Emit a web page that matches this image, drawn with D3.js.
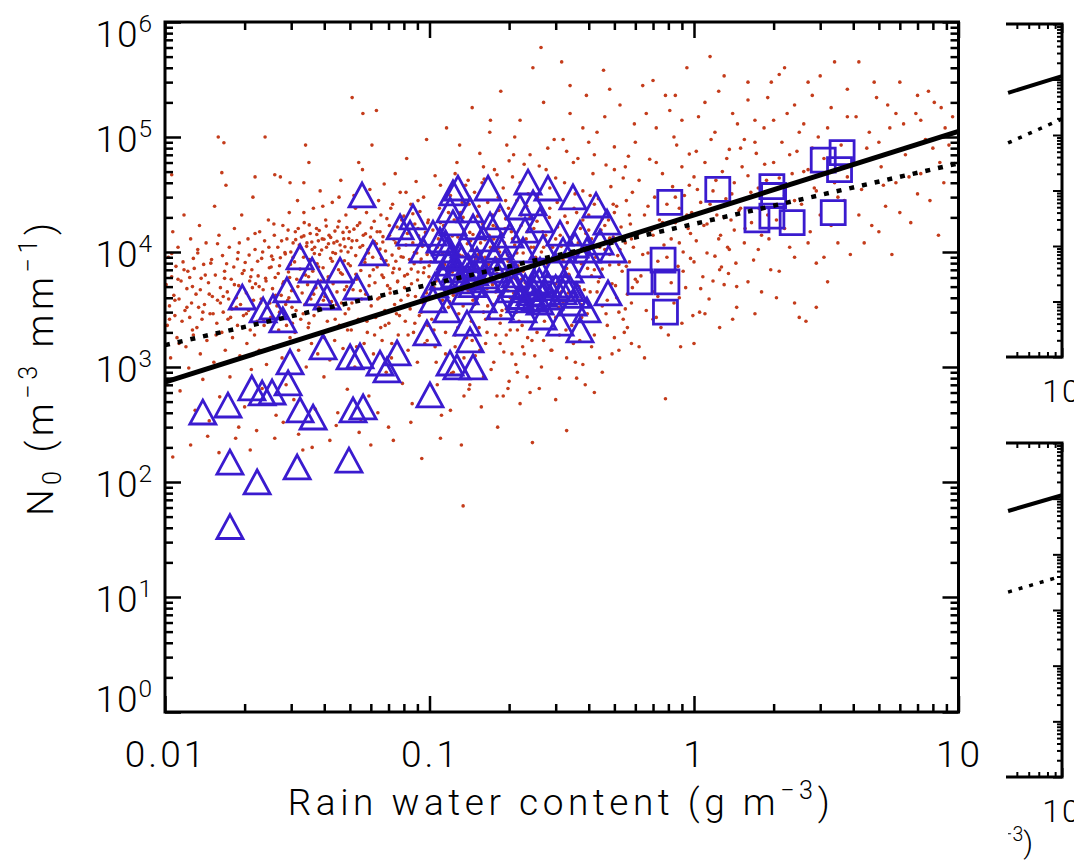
<!DOCTYPE html>
<html>
<head>
<meta charset="utf-8">
<script src="https://cdn.jsdelivr.net/npm/d3@7"></script>
<style>
  body { margin: 0; background: #fff; }
  svg text { font-family: Roboto, "Liberation Sans", sans-serif; font-weight: 300; fill: #000; }
</style>
</head>
<body>
<svg id="chart" width="1074" height="860"></svg>
<script>
// Axis ticks
const xMajor = [0.01, 0.1, 1, 10];
const xMajorLabels = ["0.01", "0.1", "1", "10"];
const yExponents = [0, 1, 2, 3, 4, 5, 6];

// Fitted lines, end points [rain water content, N0]
const fitSolid = [[0.01, 740], [10, 112000]];
const fitDotted = [[0.01, 1550], [10, 59000]];

// Side panels (only the right edge is visible)
const sideTopSolid = [[4.37, 57500], [10, 115000]];
const sideTopDotted = [[4.37, 7200], [10, 19500]];
const sideBotSolid = [[4.37, 60000], [10, 115000]];
const sideBotDotted = [[4.37, 2100], [10, 4070]];

// Triangles [W, N0]
const triangles = [
  [0.0176,41],[0.0176,149],[0.0223,100],[0.0316,135],[0.0496,155],[0.0139,406],[0.0173,467],
  [0.0213,657],[0.0233,594],[0.0254,606],[0.0324,423],[0.0363,367],[0.0292,726],[0.0297,1105],
  [0.0514,423],[0.0561,449],[0.0396,1493],[0.0501,1222],[0.0546,1247],[0.0691,942],[0.0754,1324],
  [0.065,1083],[0.1004,571],[0.1196,1083],[0.1461,1000],[0.0978,1976],[0.0196,4060],[0.0279,2563],
  [0.0256,3325],[0.0289,4674],[0.0324,9050],[0.0379,4400],[0.0459,6970],[0.0532,4960],[0.0611,9800],
  [0.0556,31300],[0.0774,16500],[0.0866,20200],[0.0844,14600],[0.0945,10400],[0.1227,32600],
  [0.0235,3130],[0.1281,36000],[0.1665,36000],[0.2358,40600],[0.3487,30100],[0.469,18200],
  [0.1031,14600],[0.1227,17900],[0.1461,16500],[0.1848,20200],[0.2199,24600],[0.2463,26700],
  [0.3114,14600],[0.3706,14600],[0.4412,12200],[0.1165,10400],[0.1512,8520],[0.1848,11000],
  [0.2257,10400],[0.2686,11000],[0.3197,10400],[0.3939,10400],[0.494,10400],[0.1125,6060],
  [0.1386,6060],[0.165,5710],[0.2016,4674],[0.2399,4400],[0.2855,4060],[0.3487,3600],[0.3939,3130],
  [0.1848,3325],[0.2257,3130],[0.2686,2720],[0.1594,3830],[0.1386,2410],[0.127,1000],[0.3706,2100],
  [0.3114,2410],[0.473,4400],[0.1096,12700],[0.1304,9420],[0.1694,10400],[0.1769,6970],[0.193,8190],
  [0.2105,6310],[0.2506,5370],[0.2617,6970],[0.2982,7710],[0.3253,5160],[0.3398,6970],[0.2199,3830],
  [0.2617,3670],[0.1362,4490],[0.1249,6310],[0.1049,5160],[0.2297,15500],[0.2617,19000],[0.2016,14000],
  [0.1694,17200],[0.1423,23200],[0.1196,23200],[0.3549,11500],[0.4044,7710],[0.2805,36000],
  [0.4262,25600],[0.1031,3830],[0.1165,3130],[0.1423,1720],[0.041,4060],[0.036,6970],
  [0.118,8000],[0.125,7000],[0.132,8800],[0.14,7500],[0.148,6600],[0.155,7200],[0.162,6200],
  [0.145,5200],[0.13,5600],[0.2,5800],[0.21,5200],[0.23,5000],[0.245,4800],[0.26,5600],[0.28,5200],
  [0.3,4900],[0.32,4500],[0.27,4300],[0.25,3900],[0.22,4100],[0.34,4800],[0.36,4200],[0.12,9000],
  [0.115,12000],[0.135,11500],[0.16,13000],[0.175,9000]
];

// Squares [W, N0]
const squares = [
  [0.625,5500],[0.79,5500],[0.764,8500],[0.78,3000],[0.81,27000],[1.23,35000],[1.97,37000],
  [2.0,31000],[1.73,19000],[1.97,20500],[2.35,18000],[3.36,22000],[3.08,63000],[3.63,73000],[3.55,52000]
];

// Small red points [W, N0]
const points = [
  [0.0101,5200],[0.0102,2300],[0.0103,9000],[0.0104,3400],[0.0105,1200],[0.0106,6100],[0.0107,15000],
  [0.0108,4200],[0.0109,2800],[0.011,7500],[0.0111,1800],[0.0112,11000],[0.0113,3900],[0.0114,620],
  [0.0115,5600],[0.0116,2500],[0.0117,8200],[0.0118,21000],[0.0119,3100],[0.012,1500],[0.0121,4800],
  [0.0122,6800],[0.0123,980],[0.0124,2700],[0.0125,13000],[0.0126,3600],[0.0127,5000],[0.0128,1900],
  [0.0129,7200],[0.013,420],[0.0131,4300],[0.0132,2200],[0.0133,9800],[0.0134,3300],[0.0135,17000],
  [0.0136,1300],[0.0137,5900],[0.0138,2600],[0.0139,780],[0.014,7800],
  [0.0141,3500],[0.0143,12000],[0.0144,1700],[0.0146,5400],[0.0147,340],[0.0148,2900],[0.015,8600],
  [0.0151,4100],[0.0153,1100],[0.0154,25000],[0.0155,6300],[0.0157,2400],[0.0158,3800],[0.016,14000],
  [0.0161,550],[0.0162,4900],[0.0164,2000],[0.0165,9300],[0.0166,3000],[0.0168,6800],[0.0169,1400],
  [0.017,38000],[0.0172,4500],[0.0173,2600],[0.0175,11000],[0.0176,820],[0.0178,5800],[0.0179,3200],
  [0.018,1800],[0.0182,7400],[0.0183,16000],[0.0185,240],[0.0186,4000],[0.0188,2300],[0.0189,9900],
  [0.019,5100],[0.0192,1250],[0.0193,3500],[0.0195,21000],[0.0196,6500],[0.0198,2800],[0.02,450],
  [0.0201,8100],[0.0203,4400],[0.0204,1600],[0.0206,13000],[0.0207,3100],[0.0209,5600],[0.021,2100],
  [0.0212,950],[0.0213,7000],[0.0215,30000],[0.0216,3800],[0.0218,1900],[0.0219,10500],[0.022,5300],
  [0.0222,280],[0.0223,2500],[0.0225,6200],[0.0227,1400],[0.0228,15000],[0.023,3600],[0.0232,8800],
  [0.0233,650],[0.0235,4700],[0.0237,2300],[0.0238,12500],[0.024,5900],[0.0242,1050],[0.0244,3300],
  [0.0246,19000],[0.0248,7300],
  [0.0251,2700],[0.0253,9200],[0.0255,4800],[0.0257,1500],[0.0259,14000],[0.0261,6000],[0.0263,380],
  [0.0265,3400],[0.0267,11000],[0.0269,2100],[0.0271,7600],[0.0273,45000],[0.0275,4200],[0.0277,1200],
  [0.0279,17000],[0.0281,5500],[0.0283,2900],[0.0285,9600],[0.0287,700],[0.0289,13000],[0.0291,3800],
  [0.0293,6700],[0.0295,22000],[0.0297,1800],[0.0299,10000],[0.0301,4600],[0.0303,2400],[0.0305,12000],
  [0.0307,520],[0.0309,8200],[0.0311,15000],[0.0313,3100],[0.0315,5800],[0.0317,28000],[0.032,1400],
  [0.0322,11500],[0.0324,7100],[0.0326,2600],[0.0328,13500],[0.033,4400],[0.0332,190],[0.0334,9000],
  [0.0336,18000],[0.0338,3500],[0.034,6300],[0.0342,1000],[0.0344,12000],[0.0346,5200],[0.0348,2200],
  [0.035,60000],[0.0352,8600],[0.0354,14500],[0.0356,3900],[0.0358,1600],[0.036,10500],[0.0362,6800],
  [0.0364,24000],[0.0366,2800],[0.0368,11000],[0.037,430],[0.0372,4900],[0.0374,16000],[0.0376,7900],
  [0.0378,1300],[0.038,12500],[0.0382,3300],[0.0384,9500],[0.0386,34000],[0.0388,5600],[0.039,2000],
  [0.0393,13000],[0.0396,7300],[0.0399,820],[0.0402,4100],[0.0405,19000],[0.0408,11000],[0.0411,2500],
  [0.0414,6100],[0.0417,14000],[0.042,1150],[0.0423,8800],[0.0426,3700],[0.0429,27000],[0.0432,5300],
  [0.0435,12000],[0.0438,1700],[0.0441,9700],[0.0444,310],[0.0447,4500],[0.045,16500],[0.0453,7000],
  [0.0456,2300],[0.0459,11500],[0.0462,42000],[0.0465,3600],[0.0468,6400],[0.0471,1450],[0.0474,13000],
  [0.0477,8400],[0.048,2900],[0.0483,21000],[0.0486,5000],[0.0489,640],[0.0492,10000],[0.0495,3200],
  [0.0498,15000],
  [0.0502,7600],[0.0506,2100],[0.051,12500],[0.0514,4700],[0.0518,31000],[0.0522,1000],[0.0526,9300],
  [0.053,5800],[0.0534,17000],[0.0538,2600],[0.0542,270],[0.0546,11000],[0.055,6900],[0.0554,3900],
  [0.0558,52000],[0.0562,14000],[0.0566,1600],[0.057,8100],[0.0574,4300],[0.0578,22000],[0.0582,2000],
  [0.0586,10500],[0.059,560],[0.0594,6200],[0.0598,13500],[0.0602,3400],[0.0606,85000],[0.061,9000],
  [0.0614,1300],[0.0618,18500],[0.0622,5400],[0.0626,2700],[0.063,11800],[0.0634,7400],[0.0638,400],
  [0.0642,28000],[0.0646,4000],[0.065,15000],[0.0654,2200],[0.0658,8800],[0.0662,1700],[0.0666,12200],
  [0.067,6000],[0.0674,39000],[0.0678,3100],[0.0682,10200],[0.0686,900],[0.069,19500],[0.0694,5100],
  [0.0698,7700],[0.0702,2400],[0.0706,14000],[0.071,4400],[0.0714,24000],[0.0718,1200],[0.0722,9400],
  [0.0726,6600],[0.073,230],[0.0734,12800],[0.0738,3500],[0.0742,48000],[0.0746,8300],[0.075,2900],
  [0.0754,16500],[0.0758,5600],[0.0762,1900],[0.0766,10800],[0.077,7100],[0.0775,33000],[0.078,3800],
  [0.0785,13200],[0.079,720],[0.0795,9000],[0.08,20500],[0.0805,4900],[0.081,2500],[0.0815,11500],
  [0.082,65000],[0.0825,6400],[0.083,1400],[0.0835,15500],[0.084,8600],[0.0845,3200],[0.085,26000],
  [0.0855,5300],[0.086,480],[0.0865,12000],[0.087,2000],[0.0875,7900],[0.088,17500],[0.0885,4100],
  [0.089,41000],[0.0895,9800],[0.09,1100],[0.0905,6700],[0.091,13800],[0.0915,2800],[0.092,22500],
  [0.0925,5000],[0.093,8700],[0.0935,160],[0.094,11200],[0.0945,3600],[0.095,30000],[0.0955,7300],
  [0.096,1600],[0.0965,14800],[0.097,4600],[0.0975,95000],[0.098,9500],[0.0985,2300],[0.099,19000],
  [0.0995,6100],
  [0.101,8200],[0.102,2600],[0.103,15500],[0.104,4900],[0.105,46000],[0.106,1100],[0.107,11000],
  [0.108,6300],[0.109,24000],[0.11,3100],[0.111,380],[0.112,9600],[0.113,17000],[0.114,5500],
  [0.115,2000],[0.116,120000],[0.117,12800],[0.118,7400],[0.119,3700],[0.12,31000],[0.121,880],
  [0.122,10200],[0.123,4200],[0.124,19000],[0.125,1500],[0.126,8000],[0.127,60000],[0.128,13500],
  [0.129,2900],[0.13,5800],[0.131,22000],[0.132,210],[0.133,9200],[0.134,3400],[0.135,15000],
  [0.136,6900],[0.137,38000],[0.138,1800],[0.139,11800],[0.14,4600],[0.141,26000],[0.142,700],
  [0.143,8600],[0.144,2500],[0.145,180000],[0.146,14200],[0.147,5200],[0.148,33000],[0.149,1250],
  [0.15,10500],[0.151,3900],[0.152,20500],[0.153,7200],[0.154,2200],[0.155,72000],[0.156,12000],
  [0.157,450],[0.158,6000],[0.159,17500],[0.16,3000],[0.161,43000],[0.162,9000],[0.163,1600],
  [0.164,15800],[0.165,4800],[0.166,27000],[0.167,7800],[0.168,2700],[0.169,110000],[0.17,11000],
  [0.171,950],[0.172,5600],[0.173,21000],[0.174,3500],[0.175,13000],[0.176,52000],[0.177,8400],
  [0.178,1900],[0.179,16500],[0.18,6500],[0.181,300],[0.182,30000],[0.183,4100],[0.184,10000],
  [0.185,2400],[0.186,250000],[0.187,14500],[0.188,7000],[0.19,36000],[0.191,1350],[0.192,12000],
  [0.193,5000],[0.194,19500],[0.195,3200],[0.196,85000],[0.197,9400],[0.198,650],[0.199,24000],
  [0.2,6200],[0.202,2100],[0.204,15000],[0.206,45000],[0.208,4400],[0.21,11500],[0.212,1050],
  [0.214,28000],[0.216,7600],[0.218,3700],[0.22,140000],[0.222,17000],[0.224,2300],[0.226,9800],
  [0.228,58000],[0.23,5400],[0.232,13000],[0.234,820],[0.236,32000],[0.238,4000],[0.24,20000],
  [0.242,8800],[0.244,1700],[0.246,400000],[0.248,11000],[0.104,2100],[0.108,13000],[0.112,3800],
  [0.118,22000],[0.122,6700],[0.128,2200],[0.133,27000],[0.138,5100],[0.143,12500],[0.148,3500],
  [0.153,9500],[0.158,40000],[0.163,2600],[0.168,14000],[0.173,5200],[0.178,8900],[0.183,23000],
  [0.188,3100],[0.193,16000],[0.198,4600],[0.203,9000],[0.208,70000],[0.213,3000],[0.218,12500],
  [0.223,5800],[0.228,1300],[0.233,25000],[0.238,7300],[0.243,3300],[0.248,16000],[0.135,560],
  [0.134,62],[0.19,560],[0.215,900],[0.24,600],[0.245,220],[0.33,280],[0.78,530],
  [0.252,9000],[0.256,30000],[0.26,4200],[0.264,600000],[0.268,15000],[0.272,2500],[0.276,52000],
  [0.28,7800],[0.284,20000],[0.288,1400],[0.292,11000],[0.296,95000],[0.3,5300],[0.304,27000],
  [0.308,3300],[0.312,14000],[0.316,450000],[0.32,8500],[0.324,40000],[0.328,2100],[0.332,18000],
  [0.336,6400],[0.34,160000],[0.344,12000],[0.348,3800],[0.352,24000],[0.356,1100],[0.36,9600],
  [0.364,65000],[0.368,5000],[0.372,16000],[0.376,2700],[0.38,34000],[0.384,11500],[0.388,700],
  [0.392,230000],[0.396,7200],[0.4,21000],[0.405,4500],[0.41,13000],[0.415,48000],[0.42,1900],
  [0.425,9000],[0.43,110000],[0.435,29000],[0.44,6000],[0.445,15500],[0.45,3400],[0.455,380000],
  [0.46,10500],[0.465,57000],[0.47,2300],[0.475,19000],[0.48,7700],[0.485,37000],[0.49,1300],
  [0.495,13500],[0.5,82000],[0.505,5100],[0.51,25000],[0.515,9300],[0.52,3000],[0.525,190000],
  [0.53,16500],[0.535,6800],[0.54,44000],[0.545,2000],[0.55,12000],[0.555,28000],[0.56,4300],
  [0.565,68000],[0.57,8200],[0.575,17500],[0.58,1600],[0.585,33000],[0.59,11000],[0.595,130000],
  [0.6,5800],[0.255,2000],[0.27,11000],[0.285,36000],[0.3,13000],[0.315,4500],[0.33,75000],
  [0.345,9500],[0.36,22000],[0.375,3500],[0.39,14500],[0.405,31000],[0.42,7000],[0.435,5500],
  [0.45,19500],[0.465,2900],[0.48,9500],[0.495,26000],[0.51,4000],[0.525,10500],[0.54,2600],
  [0.555,7500],[0.57,21000],[0.585,4900],[0.265,1000],[0.31,800],[0.37,1700],[0.44,1200],
  [0.52,1400],[0.58,3600],
  [0.61,14000],[0.62,42000],[0.63,6200],[0.64,280000],[0.65,21000],[0.66,3100],[0.67,9800],
  [0.68,64000],[0.69,15500],[0.7,4500],[0.71,30000],[0.72,120000],[0.73,8300],[0.74,19000],
  [0.75,2200],[0.76,48000],[0.77,11500],[0.79,26000],[0.8,6800],[0.81,170000],[0.82,13000],
  [0.83,37000],[0.84,3600],[0.85,18000],[0.86,85000],[0.87,7500],[0.88,24000],[0.89,1500],
  [0.9,55000],[0.91,10000],[0.92,31000],[0.93,4900],[0.94,400000],[0.95,16000],[0.96,71000],
  [0.97,8800],[0.98,22000],[0.99,2800],[1.0,45000],[1.02,12500],[1.04,150000],[1.06,27000],
  [1.08,6100],[1.1,60000],[1.12,17500],[1.14,3900],[1.16,95000],[1.18,34000],[1.2,9200],
  [1.22,21000],[1.24,250000],[1.26,14000],[1.28,50000],[1.3,5200],[1.32,29000],[1.34,11000],
  [1.36,78000],[1.38,19000],[1.4,2600],[1.42,40000],[1.44,8000],[1.46,130000],[1.48,23000],
  [0.65,1200],[0.72,2700],[0.88,4000],[1.05,3000],[1.25,7000],[0.7,310000],[0.85,230000],
  [1.15,500000],[1.35,6500],
  [1.52,55000],[1.56,16000],[1.6,210000],[1.64,33000],[1.68,8500],[1.72,72000],[1.76,24000],
  [1.8,4500],[1.84,120000],[1.88,42000],[1.92,13000],[1.96,300000],[2.0,60000],[2.05,19000],
  [2.1,6800],[2.15,90000],[2.2,31000],[2.25,160000],[2.3,11000],[2.35,48000],[2.4,3600],
  [2.45,75000],[2.5,2700],[2.55,26000],[2.6,130000],[2.65,2500],[2.7,52000],[2.75,15000],
  [2.8,230000],[2.85,36000],[2.9,8000],[2.95,100000],[3.0,21000],[3.1,65000],[3.2,5500],
  [3.3,180000],[3.4,40000],[3.5,12000],[3.6,85000],[3.7,28000],[3.8,260000],[3.9,9500],
  [1.6,5500],[1.75,10500],[2.05,4000],[2.4,9000],[2.9,3300],[3.3,17000],[3.8,45000],
  [1.55,95000],[2.2,400000],[3.0,340000],
  [4.1,150000],[4.3,35000],[4.5,80000],[4.7,17000],[4.9,220000],[5.1,55000],[5.3,25000],
  [5.5,120000],[5.8,40000],[6.0,300000],[6.3,70000],[6.6,18000],[6.9,160000],[7.2,48000],
  [7.5,95000],[7.8,28000],[8.1,200000],[8.5,60000],[8.9,120000],[4.4,12000],[5.0,90000],
  [5.6,9500],[6.2,130000],[7.0,32000],[7.7,250000],[8.4,14000],[4.2,450000],[5.4,190000],[9.2,85000],
  [0.0159,100000],[0.0167,89000],[0.0239,100000],[0.034,85000],[0.0164,49000],[0.0219,45000],
  [0.026,47000],[0.0297,40000],[0.0335,40000],[0.0106,47000],[0.051,220000],[0.056,160000],
  [0.063,170000],[0.054,60000],
  [0.0107,165],[0.0125,210],[0.0145,250],[0.016,180],[0.019,300],[0.021,190],[0.026,240],
  [0.028,330],[0.032,260],[0.036,200],[0.042,230],[0.045,400],[0.055,350],[0.06,210],[0.07,300],
  [0.085,330],[0.11,240],[0.12,420],
  [0.0104,2600],[0.0121,3300],[0.0113,1600],[0.0136,4700],[0.0118,7000],[0.0109,3800],[0.0127,2100],
  [0.0142,6300],[0.0152,2900],[0.0133,10500],[0.0147,4300],[0.0162,3600],[0.0171,7900],[0.0156,1900],
  [0.0183,5200],[0.0177,2700],[0.0191,12000],[0.0166,4100],[0.0199,6900],[0.0186,3300],[0.0208,9400],
  [0.0214,4900],[0.0197,2200],[0.0224,8300],[0.0231,3900],[0.0219,14500],[0.0241,5600],[0.0236,2500],
  [0.0252,7400],[0.0247,11000],[0.0262,4200],[0.0258,17500],[0.0271,3000],[0.0268,6500],[0.0284,9900],
  [0.0279,5300],[0.0292,15500],[0.0288,2300],[0.0298,7800],[0.0294,4000],[0.0112,5800],[0.0128,8800],
  [0.0139,3000],[0.0158,11800],[0.0174,3900],[0.0203,2900],[0.0227,5000],[0.0249,3600],[0.0276,12500],
  [0.0296,6000],[0.0106,9700],[0.0124,6000],[0.0149,8000],[0.0168,5900],[0.0188,8700],[0.0211,6100],
  [0.0234,10000],[0.0256,8600],[0.0273,8900],[0.0286,3500],
  [0.0305,9000],[0.0312,12800],[0.0319,16000],[0.0327,10800],[0.0335,13800],[0.0343,11200],
  [0.0351,17200],[0.0359,12200],[0.0367,9700],[0.0375,14200],[0.0383,15400],[0.0391,10400],
  [0.0399,12900],[0.0407,16800],[0.0415,11800],[0.0423,13400],[0.0431,9900],[0.0439,15200],
  [0.0447,12400],[0.0455,18500],[0.0463,10200],[0.0471,14800],[0.0479,11100],[0.0487,16300],
  [0.0495,13100],[0.0506,10900],[0.0518,15800],[0.0531,12600],[0.0545,17900],[0.0559,11400],
  [0.0573,14400],[0.0588,9800],[0.0603,16200],[0.0618,12300],[0.0634,15000],[0.065,10600],[0.0667,13600],
  [0.0302,3300],[0.0318,5000],[0.0333,2900],[0.0349,6100],[0.0365,4300],[0.0381,7400],[0.0397,3800],
  [0.0413,5700],[0.0429,8300],[0.0445,3500],[0.0461,6600],[0.0477,4700],[0.0493,7900],[0.0509,3600],
  [0.0527,6400],[0.0548,4600],[0.0569,8700],[0.0591,5100],[0.0613,7000],[0.0637,3900],[0.0661,6300],
  [0.0685,8400],[0.0709,4800],[0.0733,7200],[0.0757,5500],[0.0781,9100],[0.0805,6200],[0.0829,4200],
  [0.0853,7100],[0.0877,9900],[0.0901,5700],[0.0925,8200],[0.0949,6600],[0.0973,4400],[0.0997,7600],
  [0.031,2000],[0.035,2400],[0.04,1800],[0.044,2600],[0.049,2100],[0.053,1500],[0.058,2500],
  [0.062,1900],[0.068,2300],[0.072,1600],[0.077,2800],[0.083,1900],[0.088,2400],[0.093,3000],[0.098,1700],
  [0.0705,17000],[0.0745,12000],[0.0785,19000],[0.0825,14500],[0.0865,21500],[0.0905,16000],
  [0.0945,12500],[0.0985,18000],[0.0725,26000],[0.0815,33000],[0.0905,28000],[0.0335,22000],
  [0.0395,25000],[0.0455,30000],[0.0525,24000],[0.0595,35000],[0.0655,21000],
  [0.102,11500],[0.106,5600],[0.11,18000],[0.114,7800],[0.118,3300],[0.122,13800],[0.126,4400],
  [0.13,9400],[0.134,20000],[0.138,6000],[0.142,14800],[0.146,3800],[0.15,8800],[0.154,25000],
  [0.158,5000],[0.162,12800],[0.166,3400],[0.17,7300],[0.174,17000],[0.178,4500],[0.182,10800],
  [0.186,2800],[0.19,6400],[0.194,28000],[0.198,8300],[0.202,4000],[0.206,13000],[0.21,5900],
  [0.214,9800],[0.218,2500],[0.222,21000],[0.226,6800],[0.23,3700],[0.234,15000],[0.238,5100],
  [0.242,11000],[0.246,2900],[0.25,7700],[0.255,18500],[0.26,4800],[0.265,10000],[0.27,3200],
  [0.275,14000],[0.28,6300],[0.285,24000],[0.29,4100],[0.295,8900],[0.3,2700],[0.305,16500],
  [0.31,5600],[0.315,11200],[0.32,3600],[0.325,20500],[0.33,7200],[0.335,4400],[0.34,13200],
  [0.345,2300],[0.35,9100],[0.355,32000],[0.36,5400],[0.365,12000],[0.37,3800],[0.375,7900],
  [0.38,19000],[0.385,4700],[0.39,10200],[0.395,2900],[0.4,15500],[0.41,6200],[0.42,26000],
  [0.43,4500],[0.44,11000],[0.45,7100],[0.46,17000],[0.47,3800],[0.48,13200],[0.49,5300],[0.5,22000],
  [0.105,1500],[0.115,1300],[0.125,1900],[0.135,1200],[0.145,1700],[0.155,1400],[0.165,2000],
  [0.175,1100],[0.185,1600],[0.195,1900],[0.205,1300],[0.215,2100],[0.225,1500],[0.235,1800],
  [0.25,1250],[0.27,1700],[0.29,1400],[0.31,1900],[0.33,1200],[0.35,1600],[0.38,1050],[0.41,1500],
  [0.45,900],[0.5,1800],
  [0.107,700],[0.123,900],[0.141,640],[0.16,820],[0.18,560],[0.2,750],[0.22,480],[0.26,650],
  [0.3,520],[0.36,800],[0.42,600],
  [0.11,38000],[0.125,48000],[0.14,42000],[0.16,55000],[0.18,47000],[0.2,62000],[0.22,40000],
  [0.24,70000],[0.26,56000],[0.28,80000],[0.3,44000],[0.32,95000],[0.35,60000],[0.38,120000],
  [0.42,70000],[0.46,150000],[0.5,52000],[0.13,85000],[0.17,140000],[0.21,100000],[0.27,200000],
  [0.34,280000],[0.4,90000],[0.48,260000],
  [0.52,7800],[0.55,3200],[0.58,13000],[0.61,5500],[0.64,9500],[0.67,25000],[0.7,14000],[0.73,4100],
  [0.76,18000],[0.79,9000],[0.82,5400],[0.85,30000],[0.88,12000],[0.91,6800],[0.94,21000],
  [0.97,14500],[1.0,8200],[1.03,35000],[1.06,4800],[1.09,17000],[1.12,9800],[1.15,26000],[1.18,5600],
  [1.21,42000],[1.24,13000],[1.27,7400],[1.3,20000],[1.33,65000],[1.36,10500],[1.39,32000],
  [1.42,15500],[1.45,5000],[1.5,24000],[1.55,12000],[1.6,46000],[1.65,18000],[1.7,90000],
  [1.75,36000],[1.8,14000],[1.85,58000],[1.9,21000],[1.95,7000],[2.0,140000],[2.1,44000],
  [2.2,16000],[2.3,70000],[2.4,28000],[2.5,110000],[2.6,50000],[2.7,12000],[2.8,80000],[2.9,34000],
  [0.55,55000],[0.6,90000],[0.66,160000],[0.72,60000],[0.78,230000],[0.84,100000],[0.9,140000],
  [0.96,38000],[1.02,75000],[1.1,200000],[1.2,110000],[1.3,340000],[1.4,160000],[1.5,80000],
  [1.6,300000],[1.7,140000],[1.9,220000],[2.1,350000],[2.4,190000],[2.7,300000],[0.56,2200],
  [0.62,1500],[0.7,2600],[0.8,1900],[0.9,2400],[1.0,1600],[1.1,2900],[1.25,2200],[1.45,3300],[1.7,2900],
  [3.2,120000],[3.5,30000],[3.8,150000],[4.0,60000],[4.6,110000],[5.2,38000],[5.8,160000],
  [6.5,45000],[7.2,140000],[8.0,80000],[8.8,40000],[3.4,450000],[4.8,300000],[6.0,22000],
  [7.0,230000],[8.6,180000],[9.5,150000],[3.1,9000],[4.2,21000],[5.0,15000]
];

const blue = "#3a1bcf";
const red = "#c43c1b";
const svg = d3.select("#chart");

// Main plot frame
const pLeft = 165, pRight = 958.5, pTop = 22, pBottom = 712;
const x = d3.scaleLog().domain([0.01, 10]).range([pLeft, pRight]);
const y = d3.scaleLog().domain([1, 1e6]).range([pBottom, pTop]);

const isPow10 = v => Math.abs(Math.log10(v) - Math.round(Math.log10(v))) < 1e-9;

function drawTicks(g, xs, ys, xl, xr, yt, yb, major, minor, width) {
  const xMinor = xs.ticks().filter(v => !isPow10(v));
  const xMaj = xs.ticks().filter(isPow10);
  const yMinor = ys.ticks().filter(v => !isPow10(v));
  const yMaj = ys.ticks().filter(isPow10);
  const specs = [
    [d3.axisBottom, xs, xMinor, minor, `translate(0,${yb})`],
    [d3.axisBottom, xs, xMaj, major, `translate(0,${yb})`],
    [d3.axisTop, xs, xMinor, minor, `translate(0,${yt})`],
    [d3.axisTop, xs, xMaj, major, `translate(0,${yt})`],
    [d3.axisLeft, ys, yMinor, minor, `translate(${xl},0)`],
    [d3.axisLeft, ys, yMaj, major, `translate(${xl},0)`],
    [d3.axisRight, ys, yMinor, minor, `translate(${xr},0)`],
    [d3.axisRight, ys, yMaj, major, `translate(${xr},0)`]
  ];
  specs.forEach(([axisFn, sc, vals, size, tr]) => {
    const a = g.append("g").attr("transform", tr)
      .call(axisFn(sc).tickValues(vals).tickSize(-size).tickFormat(""));
    a.select(".domain").remove();
    a.selectAll("line").attr("stroke", "#000").attr("stroke-width", width);
  });
  g.append("rect")
    .attr("x", xl).attr("y", yt)
    .attr("width", xr - xl).attr("height", yb - yt)
    .attr("fill", "none").attr("stroke", "#000").attr("stroke-width", 3);
}

// stretch a text to a measured width through letter spacing
function fitWidth(t, target) {
  const n = t.text().length;
  const len = t.node().getComputedTextLength();
  t.attr("letter-spacing", (target - len) / (n - 1));
}

// Side panels, clipped so only the right strip shows
const sideClip = svg.append("clipPath").attr("id", "side-clip");
sideClip.append("rect").attr("x", 1006).attr("y", 0).attr("width", 80).attr("height", 860);
const sideTextClip = svg.append("clipPath").attr("id", "side-text-clip");
sideTextClip.append("rect").attr("x", 1008).attr("y", 0).attr("width", 80).attr("height", 860);

const panels = [
  { top: 24, bottom: 357, solid: sideTopSolid, dotted: sideTopDotted, title: false },
  { top: 443, bottom: 777, solid: sideBotSolid, dotted: sideBotDotted, title: true }
];
panels.forEach(p => {
  const sx = d3.scaleLog().domain([0.01, 10]).range([1062 - 450, 1062]);
  const sy = d3.scaleLog().domain([1, 1e6]).range([p.bottom, p.top]);
  const g = svg.append("g").attr("clip-path", "url(#side-clip)");
  drawTicks(g, sx, sy, sx(0.01), sx(10), p.top, p.bottom, 9, 5, 2);
  const line = d3.line().x(d => sx(d[0])).y(d => sy(d[1]));
  g.append("path").datum(p.solid).attr("d", line)
    .attr("fill", "none").attr("stroke", "#000").attr("stroke-width", 4);
  g.append("path").datum(p.dotted).attr("d", line)
    .attr("fill", "none").attr("stroke", "#000").attr("stroke-width", 3.5)
    .attr("stroke-dasharray", "4,7");
  svg.append("text").attr("x", sx(10)).attr("y", p.bottom + 45)
    .attr("text-anchor", "middle").attr("font-size", 32).attr("letter-spacing", 2).text("10");
  if (p.title) {
    const t = svg.append("text").attr("clip-path", "url(#side-text-clip)")
      .attr("x", 1033).attr("y", p.bottom + 76)
      .attr("text-anchor", "end").attr("font-size", 30);
    t.append("tspan").text("Rain water content (g m");
    t.append("tspan").attr("dy", -12).attr("font-size", "0.65em").text("\u22123");
    t.append("tspan").attr("dy", 12).text(")");
  }
});

const plot = svg.append("g");

// Points
plot.append("g").selectAll("circle").data(points).join("circle")
  .attr("cx", d => x(d[0])).attr("cy", d => y(d[1]))
  .attr("r", 1.8).attr("fill", red);

// Triangles
const triangleType = {
  draw(ctx, size) {
    const w = Math.sqrt(size) / 2, h = w * 0.92;
    ctx.moveTo(0, -h); ctx.lineTo(w, h); ctx.lineTo(-w, h); ctx.closePath();
  }
};
plot.append("g").selectAll("path").data(triangles).join("path")
  .attr("transform", d => `translate(${x(d[0])},${y(d[1])})`)
  .attr("d", d3.symbol().type(triangleType).size(26 * 26))
  .attr("fill", "none").attr("stroke", blue).attr("stroke-width", 2.8);

// Squares
plot.append("g").selectAll("path").data(squares).join("path")
  .attr("transform", d => `translate(${x(d[0])},${y(d[1])})`)
  .attr("d", d3.symbol().type(d3.symbolSquare).size(24 * 24))
  .attr("fill", "none").attr("stroke", blue).attr("stroke-width", 2.8);

// Fitted lines
const fitLine = d3.line().x(d => x(d[0])).y(d => y(d[1]));
plot.append("path").datum(fitDotted).attr("d", fitLine)
  .attr("fill", "none").attr("stroke", "#000").attr("stroke-width", 4.5)
  .attr("stroke-dasharray", "5,8");
plot.append("path").datum(fitSolid).attr("d", fitLine)
  .attr("fill", "none").attr("stroke", "#000").attr("stroke-width", 5);

drawTicks(svg.append("g"), x, y, pLeft, pRight, pTop, pBottom, 16, 8, 2.5);

// Tick labels
xMajor.forEach((v, i) => {
  svg.append("text").attr("x", x(v) + 1).attr("y", pBottom + 55)
    .attr("text-anchor", "middle").attr("font-size", 37).attr("letter-spacing", 3)
    .text(xMajorLabels[i]);
});
const yLabelShift = e => (e === 6 ? 25 : e === 0 ? 0 : 15);
yExponents.forEach(e => {
  const t = svg.append("text").attr("x", 153).attr("y", y(Math.pow(10, e)) + yLabelShift(e))
    .attr("text-anchor", "end").attr("font-size", 37).attr("letter-spacing", 1);
  t.append("tspan").text("10");
  t.append("tspan").attr("dy", -15).attr("font-size", "0.66em").text(e);
});

// Axis titles
const xTitle = svg.append("text").attr("x", 561).attr("y", 815)
  .attr("text-anchor", "middle").attr("font-size", 37);
xTitle.append("tspan").text("Rain water content (g m");
xTitle.append("tspan").attr("dy", -16).attr("font-size", "0.68em").text("\u22123");
xTitle.append("tspan").attr("dy", 16).text(")");
fitWidth(xTitle, 542);

const yTitle = svg.append("text").attr("transform", "translate(53,367) rotate(-90)")
  .attr("text-anchor", "middle").attr("font-size", 37);
yTitle.append("tspan").text("N");
yTitle.append("tspan").attr("dy", 8).attr("font-size", "0.68em").text("0");
yTitle.append("tspan").attr("dy", -8).text(" (m");
yTitle.append("tspan").attr("dy", -16).attr("font-size", "0.68em").text("\u22123");
yTitle.append("tspan").attr("dy", 16).text(" mm");
yTitle.append("tspan").attr("dy", -16).attr("font-size", "0.68em").text("\u22121");
yTitle.append("tspan").attr("dy", 16).text(")");
fitWidth(yTitle, 293);
</script>
</body>
</html>
